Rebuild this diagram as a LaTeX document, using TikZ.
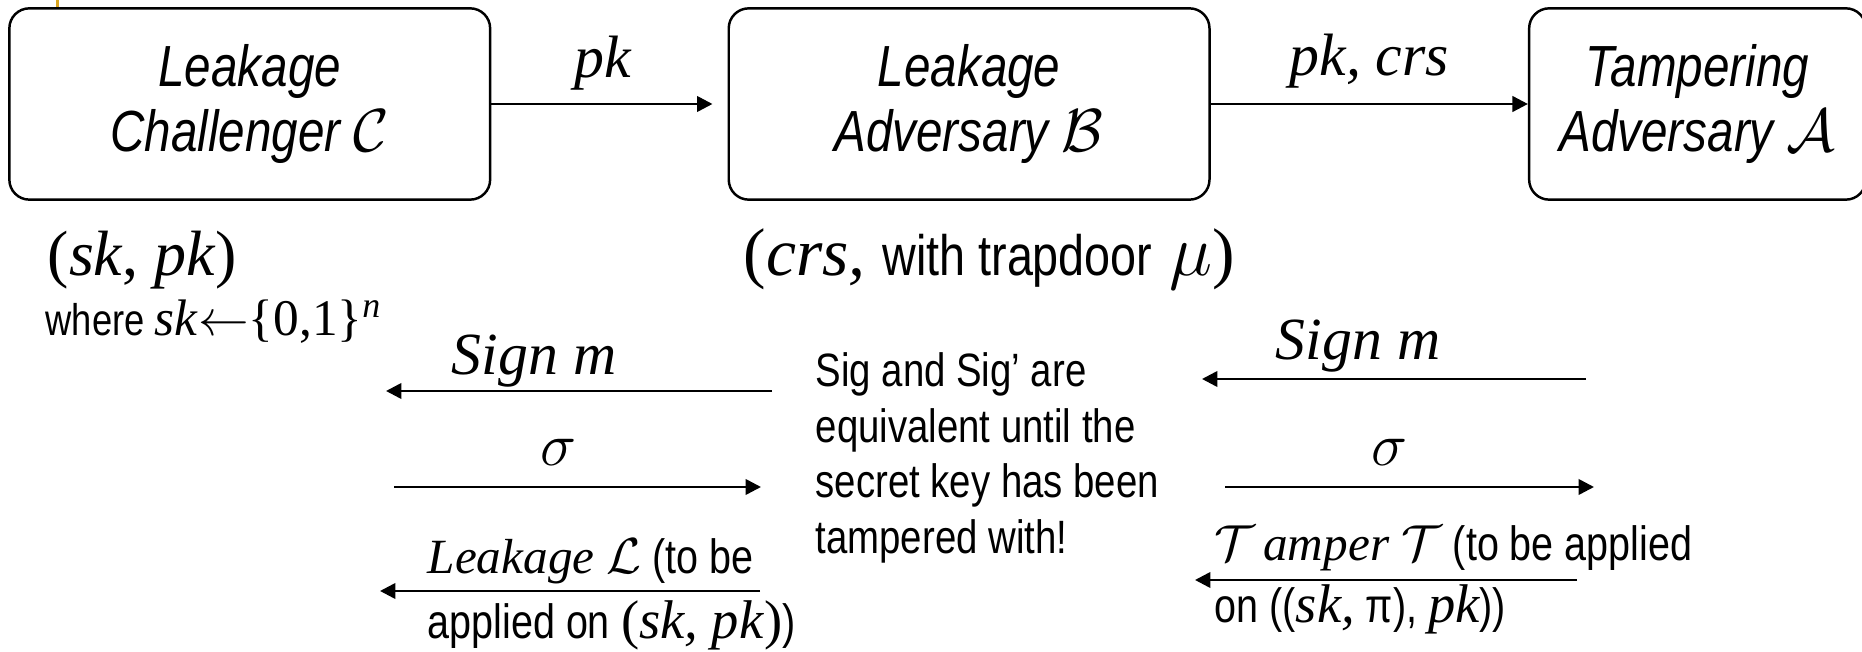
\documentclass[tikz,border=0pt]{standalone}
\usepackage{fontspec}
\setmainfont{Liberation Sans}[FakeStretch=0.82]
\newfontfamily\tnr{Liberation Serif}
\usetikzlibrary{arrows.meta, positioning}

\definecolor{slidebar}{RGB}{218,165,32}

\begin{document}
\begin{tikzpicture}[
    x=0.01cm, y=-0.01cm,
    node distance=2.36cm,
    agent/.style={rectangle, rounded corners=0.2cm, draw, line width=0.7pt,
                  minimum width=4.805cm, minimum height=1.912cm,
                  align=center, font=\fontsize{16.5}{18.5}\selectfont\itshape},
    msg/.style={inner sep=0pt, font=\tnr\itshape\fontsize{17}{20}\selectfont},
    note/.style={inner sep=0pt, align=left, font=\fontsize{13.3}{15.8}\selectfont},
    arrow/.style={-{Triangle[length=4.4pt, width=4.4pt]}, line width=0.75pt}
  ]
  \useasboundingbox (0,0) rectangle (1862,652);
  \fill[slidebar] (56,0) rectangle (59,8);

  % the three parties
  \node[agent] (chal) at (249.75,104) {Leakage\\Challenger $\mathcal{C}$};
  \node[agent, right=of chal] (ladv) {Leakage\\Adversary $\mathcal{B}$};
  \node[agent, right=3.17cm of ladv, minimum width=3.365cm] (tadv) {Tampering\\Adversary $\mathcal{A}$};

  \draw[arrow, shorten >=0.15cm] (chal) -- (ladv) node[msg, pos=0.47, above=0.12cm] (pk) {pk};
  \draw[arrow] (ladv) -- (tadv) node[msg, midway, above=0.14cm] (pkcrs) {pk, crs};

  % keys and crs
  \node[anchor=base west, inner sep=0pt, font=\tnr\fontsize{18.2}{21}\selectfont] (keys) at (47,276)
    {(\textit{sk}, \textit{pk})};
  \node[anchor=base west, inner sep=0pt, font=\fontsize{12.6}{15}\selectfont] (gen) at (45,336)
    {where {\tnr\fontsize{14.6}{17}\selectfont\textit{sk}$\leftarrow$\{0,1\}\textsuperscript{\itshape n}}};
  \node[anchor=base west, inner sep=0pt, font=\tnr\fontsize{19.2}{22}\selectfont] (crs) at (743,276)
    {(\textit{crs,} {\rmfamily\fontsize{16.2}{19}\selectfont with trapdoor} $\mu$)};

  \node[note, anchor=base west] (equiv) at (815,553.5)
    {Sig and Sig’ are\\equivalent until the\\secret key has been\\tampered with!};

  % challenger side
  \coordinate (sgnA) at (772,391);
  \coordinate (sgnB) at (386,391);
  \coordinate (sigA) at (394,487);
  \coordinate (sigB) at (761,487);
  \coordinate (lkA) at (760,591);
  \coordinate (lkB) at (380,591);
  \draw[arrow] (sgnA) -- (sgnB);
  \draw[arrow] (sigA) -- (sigB);
  \draw[arrow] (lkA) -- (lkB);
  \node[msg, anchor=base] (sgnL) at (534,375) {Sign m};
  \node[inner sep=0pt, anchor=base, font=\fontsize{18}{20}\selectfont] (sigL) at (558,466) {$\sigma$};
  \node[inner sep=0pt, anchor=base west, align=left, font=\fontsize{13.7}{18.5}\selectfont] (lkL) at (427,639)
    {{\tnr\itshape\fontsize{14}{18.5}\selectfont Leakage $\mathcal{L}$} (to be\\applied on {\tnr\fontsize{15.5}{18.5}\selectfont(\textit{sk, pk})})};

  % tampering side
  \coordinate (sgnC) at (1586,379);
  \coordinate (sgnD) at (1202,379);
  \coordinate (sigC) at (1225,487);
  \coordinate (sigD) at (1594,487);
  \coordinate (tmA) at (1577,580);
  \coordinate (tmB) at (1195,580);
  \draw[arrow] (sgnC) -- (sgnD);
  \draw[arrow] (sigC) -- (sigD);
  \draw[arrow] (tmA) -- (tmB);
  \node[msg, anchor=base] (sgnR) at (1358,360) {Sign m};
  \node[inner sep=0pt, anchor=base, font=\fontsize{18}{20}\selectfont] (sigR) at (1389,466) {$\sigma$};
  \node[inner sep=0pt, anchor=base west, align=left, font=\fontsize{13.7}{17.9}\selectfont] (tmL) at (1214,623)
    {{\tnr\itshape\fontsize{14}{17.9}\selectfont $\mathcal{T}$\,amper $\mathcal{T}$} (to be applied\\on (({\tnr\itshape\fontsize{15.5}{17.9}\selectfont sk,} π), {\tnr\itshape\fontsize{15.5}{17.9}\selectfont pk}))};
\end{tikzpicture}
\end{document}
